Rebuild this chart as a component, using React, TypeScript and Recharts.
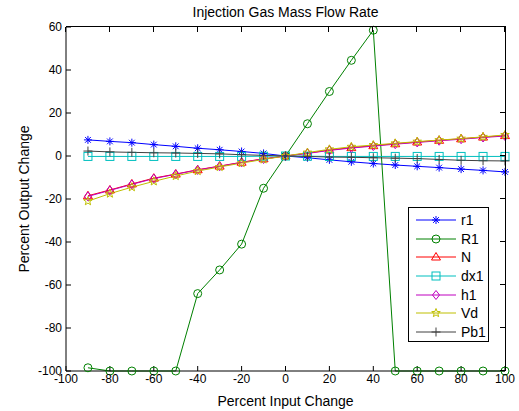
import React from "react";
import { LineChart, Line, XAxis, YAxis, Legend } from "recharts";

const xValues = [-90, -80, -70, -60, -50, -40, -30, -20, -10, 0, 10, 20, 30, 40, 50, 60, 70, 80, 90, 100];
const r1 = [7.5, 6.8, 6.2, 5.3, 4.5, 3.6, 2.9, 2.1, 1.2, 0, -0.8, -1.8, -2.7, -3.5, -4.2, -4.8, -5.4, -6.1, -6.7, -7.4];
const R1 = [-98.5, -100, -100, -100, -100, -64, -53, -41, -15, 0, 15, 30, 44.5, 58.5, -100, -100, -100, -100, -100, -100];
const N = [-18.5, -15.8, -13, -10.3, -8.4, -6.4, -4.7, -2.9, -1.3, 0, 1.3, 2.8, 3.9, 4.8, 5.7, 6.5, 7.3, 8, 8.8, 9.5];
const dx1 = [-0.2, -0.2, -0.2, -0.2, -0.2, -0.2, -0.2, -0.2, -0.1, 0, -0.1, -0.2, -0.2, -0.2, -0.2, -0.2, -0.2, -0.2, -0.2, -0.2];
const h1 = [-18.8, -16, -13.2, -10.5, -8.5, -6.5, -4.8, -3, -1.4, 0, 1.2, 2.6, 3.7, 4.6, 5.5, 6.3, 7.1, 7.8, 8.6, 9.3];
const Vd = [-21, -17.5, -14.5, -11.8, -9.3, -7, -5.1, -3.3, -1.6, 0, 1.6, 3.1, 4.3, 5.1, 5.9, 6.7, 7.4, 8.1, 8.9, 9.8];
const Pb1 = [2.3, 1.9, 1.7, 1.5, 1.4, 1.2, 1.0, 0.6, 0.3, 0, -0.2, -0.5, -0.6, -0.8, -1.0, -1.2, -1.6, -2.0, -2.2, -2.3];

const xTicks = [-100, -80, -60, -40, -20, 0, 20, 40, 60, 80, 100];
const yTicks = [-100, -80, -60, -40, -20, 0, 20, 40, 60];
const xDomain: [number, number] = [-100, 100];
const yDomain: [number, number] = [-100, 60];

const title = "Injection Gas Mass Flow Rate";
const xLabel = "Percent Input Change";
const yLabel = "Percent Output Change";

const series = [
  { key: "r1", values: r1, color: "#0000ff", marker: "star" },
  { key: "R1", values: R1, color: "#008000", marker: "circle" },
  { key: "N", values: N, color: "#ff0000", marker: "triangle" },
  { key: "dx1", values: dx1, color: "#00bfbf", marker: "square" },
  { key: "h1", values: h1, color: "#bf00bf", marker: "diamond" },
  { key: "Vd", values: Vd, color: "#bfbf00", marker: "pentagram" },
  { key: "Pb1", values: Pb1, color: "#404040", marker: "plus" },
];

const data = xValues.map((x, i) => {
  const row: Record<string, number> = { x };
  series.forEach((s) => {
    row[s.key] = s.values[i];
  });
  return row;
});

const FONT = "'Liberation Sans', Arial, sans-serif";

// chart geometry
const W = 519;
const H = 411;
const M = { top: 27, right: 14, bottom: 0, left: 0 };
const Y_AXIS_W = 66;
const X_AXIS_H = 40;
const PLOT_X = M.left + Y_AXIS_W;
const PLOT_Y = M.top;
const PLOT_W = W - M.left - M.right - Y_AXIS_W;
const PLOT_H = H - M.top - M.bottom - X_AXIS_H;
const TICK_PX = 5;

const sx = (v: number) => PLOT_X + ((v - xDomain[0]) / (xDomain[1] - xDomain[0])) * PLOT_W;
const sy = (v: number) => PLOT_Y + ((yDomain[1] - v) / (yDomain[1] - yDomain[0])) * PLOT_H;

function markerShape(kind: string, cx: number, cy: number, color: string, key?: string) {
  const common = { fill: "none", stroke: color, strokeWidth: 1 };
  switch (kind) {
    case "star": {
      const r = 4;
      const d = r * 0.72;
      return (
        <g key={key}>
          <line x1={cx - r} y1={cy} x2={cx + r} y2={cy} stroke={color} />
          <line x1={cx} y1={cy - r} x2={cx} y2={cy + r} stroke={color} />
          <line x1={cx - d} y1={cy - d} x2={cx + d} y2={cy + d} stroke={color} />
          <line x1={cx - d} y1={cy + d} x2={cx + d} y2={cy - d} stroke={color} />
        </g>
      );
    }
    case "circle":
      return <circle key={key} cx={cx} cy={cy} r={4} {...common} />;
    case "triangle":
      return (
        <polygon
          key={key}
          points={`${cx},${cy - 4.5} ${cx + 4.5},${cy + 3} ${cx - 4.5},${cy + 3}`}
          {...common}
        />
      );
    case "square":
      return <rect key={key} x={cx - 4} y={cy - 4} width={8} height={8} {...common} />;
    case "diamond":
      return (
        <polygon
          key={key}
          points={`${cx},${cy - 4.5} ${cx + 3.5},${cy} ${cx},${cy + 4.5} ${cx - 3.5},${cy}`}
          {...common}
        />
      );
    case "pentagram": {
      const pts: string[] = [];
      for (let k = 0; k < 10; k++) {
        const rr = k % 2 === 0 ? 4.5 : 1.9;
        const a = -Math.PI / 2 + (k * Math.PI) / 5;
        pts.push(`${cx + rr * Math.cos(a)},${cy + rr * Math.sin(a)}`);
      }
      return <polygon key={key} points={pts.join(" ")} {...common} />;
    }
    case "plus":
    default: {
      const r = 4.5;
      return (
        <g key={key}>
          <line x1={cx - r} y1={cy} x2={cx + r} y2={cy} stroke={color} />
          <line x1={cx} y1={cy - r} x2={cx} y2={cy + r} stroke={color} />
        </g>
      );
    }
  }
}

function makeDot(kind: string, color: string) {
  return (props: any) => {
    const { cx, cy, index } = props;
    if (cx == null || cy == null) return <g key={`e-${index}`} />;
    return markerShape(kind, cx, cy, color, `${kind}-${index}`);
  };
}

function LegendBox(props: any) {
  const payload = props.payload || [];
  const ordered = series.filter((s) => payload.some((p: any) => p.value === s.key));
  return (
    <div
      style={{
        width: 81,
        height: 135,
        border: "1px solid #000",
        background: "#fff",
        boxSizing: "border-box",
        paddingTop: 3,
        fontFamily: FONT,
        fontSize: 14,
      }}
    >
      {ordered.map((s) => (
        <div key={s.key} style={{ height: 18.6, display: "flex", alignItems: "center" }}>
          <svg width={52} height={18} style={{ display: "block" }}>
            <line x1={7} y1={9} x2={47} y2={9} stroke={s.color} strokeWidth={1} />
            {markerShape(s.marker, 27, 9, s.color)}
          </svg>
          <span style={{ color: "#000", lineHeight: "18px" }}>{s.key}</span>
        </div>
      ))}
    </div>
  );
}

const solid = (left: number, top: number, width: number, height: number, key: string) => (
  <div
    key={key}
    style={{
      position: "absolute",
      left,
      top,
      width,
      height,
      background: "#000",
      pointerEvents: "none",
      zIndex: 6,
    }}
  />
);

function FrameOverlay() {
  const right = Math.round(sx(xDomain[1]));
  const top = Math.round(sy(yDomain[1]));
  const bottom = Math.round(PLOT_Y + PLOT_H);
  return (
    <>
      {solid(PLOT_X, top - 1, right - PLOT_X + 1, 1, "frame-top")}
      {solid(right, top - 1, 1, bottom - top + 1, "frame-right")}
      {xTicks.map((t) => solid(Math.round(sx(t)) - 1, top, 1, TICK_PX, `tt${t}`))}
      {yTicks.map((t) => solid(right - TICK_PX, Math.round(sy(t)) - 1, TICK_PX, 1, `rt${t}`))}
    </>
  );
}

export default function App() {
  return (
    <div style={{ position: "absolute", left: 0, top: 0, width: W, height: H, background: "#fff" }}>
      <div
        style={{
          position: "absolute",
          left: PLOT_X,
          width: PLOT_W,
          top: 4,
          textAlign: "center",
          fontFamily: FONT,
          fontSize: 14,
          lineHeight: "16px",
          color: "#000",
          zIndex: 2,
        }}
      >
        {title}
      </div>
      <LineChart width={W} height={H} data={data} margin={M} style={{ fontFamily: FONT }}>
        <XAxis
          dataKey="x"
          type="number"
          domain={xDomain}
          ticks={xTicks}
          interval={0}
          height={X_AXIS_H}
          tickSize={-TICK_PX}
          tickMargin={8}
          stroke="#000"
          tick={{ fill: "#000", fontSize: 12 }}
          label={{ value: xLabel, position: "insideBottom", offset: 5, fill: "#000", fontSize: 14 }}
        />
        <YAxis
          type="number"
          domain={yDomain}
          ticks={yTicks}
          interval={0}
          width={Y_AXIS_W}
          tickSize={-TICK_PX}
          tickMargin={9}
          stroke="#000"
          tick={{ fill: "#000", fontSize: 12 }}
          label={{
            value: yLabel,
            angle: -90,
            position: "insideLeft",
            offset: 24,
            fill: "#000",
            fontSize: 14,
            style: { textAnchor: "middle" },
          }}
        />
        {series.map((s) => (
          <Line
            key={s.key}
            type="linear"
            dataKey={s.key}
            name={s.key}
            stroke={s.color}
            strokeWidth={1}
            dot={makeDot(s.marker, s.color)}
            activeDot={false}
            isAnimationActive={false}
          />
        ))}
        <Legend
          layout="vertical"
          align="center"
          verticalAlign="middle"
          content={<LegendBox />}
          wrapperStyle={{ left: 408, top: 207, width: 81, height: 135, zIndex: 3 }}
        />
      </LineChart>
      <FrameOverlay />
    </div>
  );
}
